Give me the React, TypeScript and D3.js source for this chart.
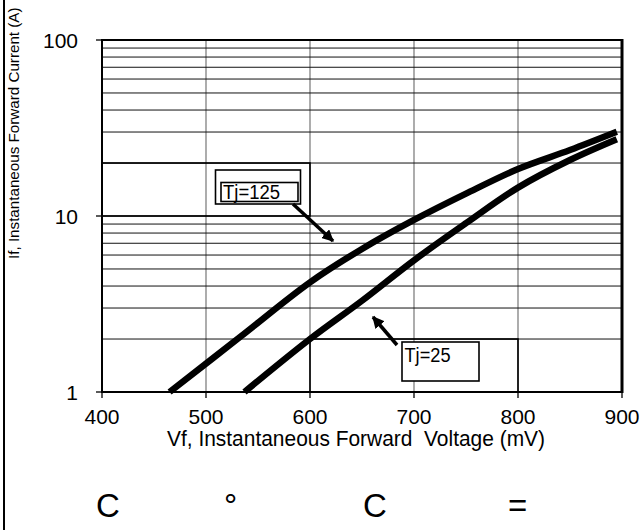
import React from "react";
import * as d3 from "d3";

const W = 641;
const H = 530;

const xTicks = [400, 500, 600, 700, 800, 900];
const yTicks = [1, 10, 100];
const yMinor = [2, 3, 4, 5, 6, 7, 8, 9, 20, 30, 40, 50, 60, 70, 80, 90];

const v125 = [465, 533, 600, 650, 700, 750, 800, 850, 895];
const i125 = [1, 2.06, 4.2, 6.5, 9.5, 13.4, 18.5, 23.7, 30.1];

const v25 = [537, 600, 650, 700, 750, 800, 850, 895];
const i25 = [1, 2.0, 3.3, 5.6, 9.1, 14.5, 20.8, 27.3];

const xTitle = "Vf, Instantaneous Forward  Voltage (mV)";
const yTitle = "If, Instantaneous Forward Current (A)";
const label125 = "Tj=125";
const label25 = "Tj=25";
const footer = ["C", "°", "C", "="];

const FONT = "'Liberation Sans', Arial, sans-serif";

export default function App() {
  const x = d3.scaleLinear().domain([400, 900]).range([102, 622]);
  const y = d3.scaleLog().domain([1, 100]).range([392, 40]);

  const line = d3
    .line<[number, number]>()
    .x((d) => x(d[0]))
    .y((d) => y(d[1]))
    .curve(d3.curveCatmullRom.alpha(0.5));

  const d125 = line(v125.map((v, k) => [v, i125[k]] as [number, number])) || "";
  const d25 = line(v25.map((v, k) => [v, i25[k]] as [number, number])) || "";

  const [x0, x1] = x.range();
  const yTop = y(100);
  const yBot = y(1);

  return (
    <svg
      width={W}
      height={H}
      style={{ position: "absolute", left: 0, top: 0, background: "#fff" }}
      fontFamily={FONT}
    >
      <defs>
        <marker
          id="ah"
          viewBox="0 0 10 10"
          refX="9"
          refY="5"
          markerWidth="3.4"
          markerHeight="3.4"
          orient="auto"
          markerUnits="strokeWidth"
        >
          <path d="M0,0 L10,5 L0,10 z" fill="#000" />
        </marker>
      </defs>
      <rect x={0} y={0} width={W} height={H} fill="#fff" />
      {/* left frame */}
      <line x1={4} x2={4} y1={0} y2={H} stroke="#000" strokeWidth={2} />

      {/* vertical grid */}
      {xTicks.slice(1, -1).map((t) => (
        <line key={"vg" + t} x1={x(t)} x2={x(t)} y1={yTop} y2={yBot} stroke="#808080" strokeWidth={1.3} />
      ))}
      {/* horizontal grid */}
      {yMinor.map((t) => (
        <line key={"hg" + t} x1={x0} x2={x1} y1={y(t)} y2={y(t)} stroke="#111" strokeWidth={1} />
      ))}
      <line x1={x0} x2={x1} y1={y(10)} y2={y(10)} stroke="#000" strokeWidth={1.2} />

      {/* odd rectangles */}
      <rect x={x(400)} y={y(20)} width={x(600) - x(400)} height={y(10) - y(20)} fill="none" stroke="#000" strokeWidth={1.6} />
      <rect x={x(600)} y={y(2)} width={x(800) - x(600)} height={y(1) - y(2)} fill="none" stroke="#000" strokeWidth={1.6} />

      {/* plot frame */}
      <rect x={x0} y={yTop} width={x1 - x0} height={yBot - yTop} fill="none" stroke="#000" strokeWidth={2} />
      <line x1={x1} x2={x1} y1={yTop - 1} y2={yBot + 1} stroke="#000" strokeWidth={3} />

      {/* ticks */}
      {xTicks.map((t) => (
        <g key={"xt" + t}>
          <line x1={x(t)} x2={x(t)} y1={yBot} y2={yBot + 6} stroke="#000" strokeWidth={1.3} />
          <text x={x(t)} y={424} textAnchor="middle" fontSize={21}>
            {t}
          </text>
        </g>
      ))}
      {yTicks.map((t) => (
        <g key={"yt" + t}>
          <line x1={x0 - 6} x2={x0} y1={y(t)} y2={y(t)} stroke="#000" strokeWidth={1.3} />
          <text x={78} y={y(t) + 7.5} textAnchor="end" fontSize={21}>
            {t}
          </text>
        </g>
      ))}

      {/* curves */}
      <path d={d125} fill="none" stroke="#000" strokeWidth={6.5} />
      <path d={d25} fill="none" stroke="#000" strokeWidth={6.5} />

      {/* Tj=125 label */}
      <rect x={215.5} y={170} width={85} height={34} fill="#fff" stroke="#000" strokeWidth={1.6} />
      <rect x={221} y={182.5} width={77} height={19} fill="none" stroke="#000" strokeWidth={1.6} />
      <text x={223} y={199} fontSize={19.5} textLength={57} lengthAdjust="spacingAndGlyphs">
        {label125}
      </text>
      <line x1={293} y1={204} x2={333} y2={241} stroke="#000" strokeWidth={3.5} markerEnd="url(#ah)" />

      {/* Tj=25 label */}
      <rect x={402} y={342} width={77} height={39} fill="#fff" stroke="#000" strokeWidth={1.6} />
      <text x={404.5} y={362} fontSize={19.5} textLength={46} lengthAdjust="spacingAndGlyphs">
        {label25}
      </text>
      <line x1={397} y1={345} x2={373} y2={317} stroke="#000" strokeWidth={3.5} markerEnd="url(#ah)" />

      {/* axis titles */}
      <text x={167} y={446} fontSize={22} textLength={378} lengthAdjust="spacingAndGlyphs" style={{ whiteSpace: "pre" }}>
        {xTitle}
      </text>
      <text transform="translate(19,259) rotate(-90)" x={0} y={0} fontSize={15.2}>
        {yTitle}
      </text>

      {/* footer */}
      <text x={96} y={517} fontSize={33}>{footer[0]}</text>
      <text x={224} y={517} fontSize={33}>{footer[1]}</text>
      <text x={363} y={517} fontSize={33}>{footer[2]}</text>
      <text x={508} y={517} fontSize={33}>{footer[3]}</text>
    </svg>
  );
}
